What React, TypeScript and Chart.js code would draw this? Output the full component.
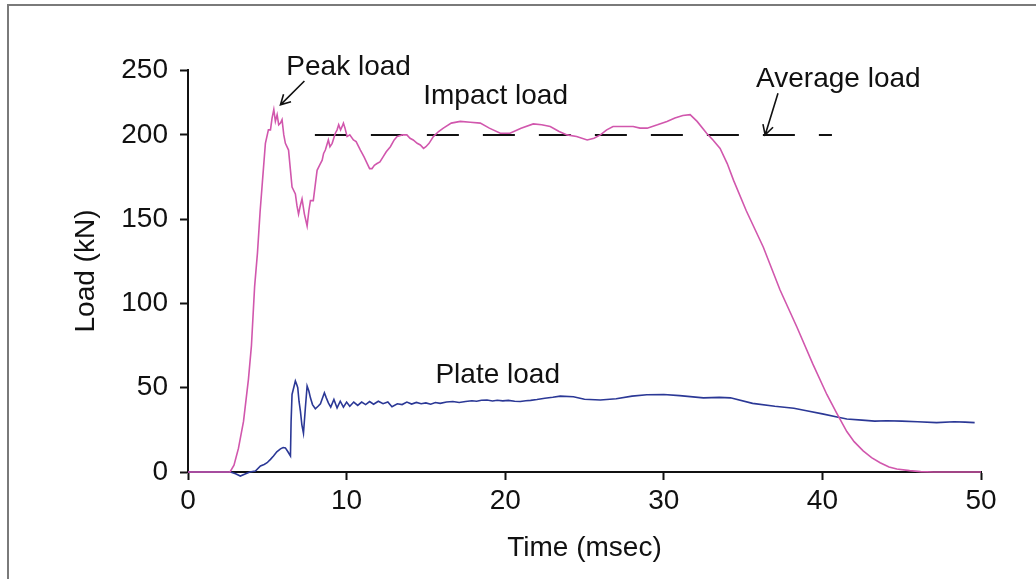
import React, { useEffect, useRef } from 'react';
import { Chart, registerables } from 'chart.js';

Chart.register(...registerables);

// ---- data ----
const impactTime = [
  0, 2.65, 2.9, 3.18, 3.5, 3.81, 4.0, 4.2, 4.38, 4.55, 4.69, 4.88, 5.07, 5.2, 5.3, 5.41, 5.51, 5.62, 5.72,
  5.83, 5.93, 6.04, 6.14, 6.34, 6.45, 6.56, 6.77, 6.87, 6.97, 7.08, 7.19, 7.34, 7.51, 7.62, 7.72, 7.9, 8.02,
  8.14, 8.3, 8.46, 8.55, 8.66, 8.85, 8.95, 9.09, 9.29, 9.4, 9.5, 9.62, 9.72, 9.8, 9.9, 10.03, 10.2, 10.43,
  10.6, 10.87, 11.1, 11.3, 11.45, 11.6, 11.75, 11.92, 12.1, 12.3, 12.5, 12.76, 13.0, 13.18, 13.5, 13.8, 14.0,
  14.2, 14.45, 14.65, 14.85, 15.0, 15.2, 15.47, 15.8, 16.1, 16.6, 17.17, 17.8, 18.43, 19.0, 19.69, 20.3, 21.0,
  21.77, 22.3, 22.84, 23.4, 23.9, 24.5, 25.17, 25.6, 26.0, 26.4, 26.8, 27.4, 28.07, 28.5, 28.95, 29.6, 30.2,
  30.7, 31.2, 31.66, 32.1, 32.7, 33.1, 33.55, 34.0, 34.4, 35.2, 36.27, 37.33, 38.39, 39.4, 40.28, 40.9, 41.54,
  42.0, 42.57, 43.1, 43.64, 44.2, 44.69, 45.5, 46.2, 47.0, 50.0,
];
const impactLoad = [
  0, 0, 4, 14, 30, 55, 75, 110, 130, 155, 172, 195, 203, 203, 210, 215, 208, 212, 206,
  207, 209, 200, 195, 191, 180, 169, 165, 158, 153, 158, 162, 153, 146, 155, 161, 161, 170,
  179, 182, 185, 189, 191, 197, 193, 195, 201, 203, 206, 203, 205, 207, 204, 199, 200, 197,
  196, 191, 187, 183, 180, 180, 182, 183, 184, 187, 190, 193, 197, 199, 200, 200, 198,
  197, 195, 194, 192, 193, 195, 199, 202, 204, 207, 208, 207.5, 207, 204, 201, 201, 204,
  206.5, 206, 205, 202, 200, 199, 197, 198, 200, 203, 205, 205, 205, 204, 204, 206, 208,
  210, 211.5, 212, 208, 201, 197, 192, 183, 173, 155, 133.5, 108, 86, 64, 46, 35, 24,
  18, 12.5, 8.5, 5.5, 3, 1.8, 0.8, 0.2, 0, 0,
];

const plateTime = [
  0, 2.68, 3.0, 3.3, 3.6, 3.9, 4.25, 4.57, 4.8, 4.99, 5.2, 5.39, 5.6, 5.83, 6.0, 6.14, 6.3, 6.46, 6.5,
  6.56, 6.77, 6.85, 6.92, 7.0, 7.09, 7.18, 7.28, 7.4, 7.51, 7.62, 7.72, 7.85, 8.03, 8.2, 8.35, 8.6, 8.72,
  8.85, 9.0, 9.2, 9.4, 9.6, 9.8, 10.0, 10.2, 10.45, 10.7, 10.95, 11.2, 11.45, 11.7, 12.0, 12.3, 12.6,
  12.86, 13.2, 13.5, 13.8, 14.1, 14.4, 14.7, 15.0, 15.3, 15.6, 15.9, 16.3, 16.7, 17.1, 17.5, 17.9, 18.2,
  18.5, 18.85, 19.2, 19.5, 19.85, 20.2, 20.6, 20.95, 21.3, 21.6, 22.0, 22.5, 23.0, 23.47, 24.3, 25.0, 26.0,
  27.0, 28.0, 28.93, 30.0, 31.0, 32.5, 33.5, 34.2, 35.6, 37.0, 38.2, 39.0, 40.0, 41.0, 41.54, 42.5, 43.3,
  44.06, 45.0, 46.0, 47.2, 48.3, 49.0, 49.6,
];
const plateLoad = [
  0, 0, -1, -2.4, -1.2, 0, 0.6, 3.6, 4.5, 5.5, 7.5, 9.5, 12, 13.7, 14.5, 14.3, 12, 9.5, 30,
  46, 54, 52, 50, 42, 36, 28, 23, 38, 51, 48, 44, 40, 37.5, 39, 40.5, 47, 44,
  41, 38.5, 43, 38, 42, 38.5, 41.5, 39, 41.5, 39.5, 41.5, 40, 41.8, 40.2, 42, 40.5, 41.5,
  38.7, 40.5, 40, 41.5, 40.3, 41.3, 40.5, 41, 40.2, 41.2, 40.7, 41.5, 41.8, 41.2, 41.8, 42.3, 42,
  42.6, 42.7, 42.1, 42.6, 42.2, 42.5, 42, 41.8, 42.3, 42.5, 43, 43.8, 44.3, 45, 44.6, 43.2, 42.7,
  43.5, 45, 45.8, 46, 45.3, 44, 44.3, 44, 40.7, 39, 37.8, 36.3, 34.5, 32.5, 31.4, 30.8, 30.2,
  30.4, 30.2, 29.8, 29.3, 29.8, 29.6, 29.3,
];

const averageTime = [8.0, 40.6];
const averageLoad = [200, 200];

const xTickValues = [0, 10, 20, 30, 40, 50];
const yTickValues = [0, 50, 100, 150, 200, 238.5];
const yTickLabels = ['0', '50', '100', '150', '200', '250'];

const xTitle = 'Time (msec)';
const yTitle = 'Load (kN)';

const labelTexts = ['Peak load', 'Impact load', 'Average load', 'Plate load'];
const labelTimes = [6.2, 14.83, 35.82, 15.6];
const labelLoads = [235.5, 218.3, 228.4, 52.7];

const arrowFromTime = [7.34, 37.2];
const arrowFromLoad = [232, 224.7];
const arrowToTime = [5.83, 36.39];
const arrowToLoad = [217.8, 200];

const FONT = '"Liberation Sans", Arial, sans-serif';

const annotationPlugin = {
  id: 'annotations',
  beforeDraw(chart: any) {
    const ctx = chart.ctx;
    ctx.save();
    ctx.strokeStyle = '#7a7a7a';
    ctx.lineWidth = 2;
    ctx.beginPath();
    ctx.moveTo(8, chart.height);
    ctx.lineTo(8, 5);
    ctx.lineTo(chart.width, 5);
    ctx.stroke();
    ctx.restore();
  },
  afterDatasetsDraw(chart: any) {
    const ctx = chart.ctx;
    const xs = chart.scales.x;
    const ys = chart.scales.y;
    ctx.save();
    ctx.fillStyle = '#111';
    ctx.font = `28px ${FONT}`;
    ctx.textAlign = 'left';
    ctx.textBaseline = 'alphabetic';
    labelTexts.forEach((t, i) => {
      ctx.fillText(t, xs.getPixelForValue(labelTimes[i]), ys.getPixelForValue(labelLoads[i]));
    });
    ctx.strokeStyle = '#111';
    ctx.lineWidth = 1.6;
    arrowFromTime.forEach((_, i) => {
      const x1 = xs.getPixelForValue(arrowFromTime[i]);
      const y1 = ys.getPixelForValue(arrowFromLoad[i]);
      const x2 = xs.getPixelForValue(arrowToTime[i]);
      const y2 = ys.getPixelForValue(arrowToLoad[i]);
      const a = Math.atan2(y2 - y1, x2 - x1);
      const h = 11;
      ctx.beginPath();
      ctx.moveTo(x1, y1);
      ctx.lineTo(x2, y2);
      ctx.moveTo(x2 - h * Math.cos(a - 0.5), y2 - h * Math.sin(a - 0.5));
      ctx.lineTo(x2, y2);
      ctx.lineTo(x2 - h * Math.cos(a + 0.5), y2 - h * Math.sin(a + 0.5));
      ctx.stroke();
    });
    ctx.restore();
  },
};

export default function App() {
  const ref = useRef<HTMLCanvasElement>(null);
  useEffect(() => {
    if (!ref.current) return;
    const toPts = (xs: number[], ys: number[]) => xs.map((x, i) => ({ x, y: ys[i] }));
    const chart = new Chart(ref.current, {
      type: 'line',
      data: {
        datasets: [
          {
            label: 'Impact load',
            data: toPts(impactTime, impactLoad),
            borderColor: '#d157ad',
            borderWidth: 1.6,
            pointRadius: 0,
            tension: 0,
            clip: false as any,
          },
          {
            label: 'Plate load',
            data: toPts(plateTime, plateLoad),
            borderColor: '#2b3896',
            borderWidth: 1.6,
            pointRadius: 0,
            tension: 0,
            clip: false as any,
          },
          {
            label: 'Average load',
            data: toPts(averageTime, averageLoad),
            borderColor: '#111',
            borderWidth: 2,
            borderDash: [32, 24],
            pointRadius: 0,
            tension: 0,
          },
        ],
      },
      options: {
        responsive: false,
        animation: false,
        events: [],
        layout: { padding: { top: 70, right: 55, bottom: 0, left: 0 } },
        plugins: { legend: { display: false }, tooltip: { enabled: false } },
        scales: {
          x: {
            type: 'linear',
            min: 0,
            max: 50,
            afterBuildTicks: (s: any) => {
              s.ticks = xTickValues.map((v) => ({ value: v }));
            },
            afterFit: (s: any) => {
              s.height = 107;
            },
            grid: {
              drawOnChartArea: false,
              drawTicks: true,
              tickLength: 8,
              tickColor: '#111',
              tickWidth: 2,
            },
            border: { color: '#111', width: 2 },
            ticks: {
              color: '#111',
              font: { family: FONT, size: 28 },
              padding: 4,
              maxRotation: 0,
              autoSkip: false,
            },
            title: {
              display: true,
              text: xTitle,
              color: '#111',
              font: { family: FONT, size: 28 },
              padding: { top: 0, bottom: 14 },
            },
          },
          y: {
            type: 'linear',
            min: 0,
            max: 238.5,
            afterBuildTicks: (s: any) => {
              s.ticks = yTickValues.map((v) => ({ value: v }));
            },
            afterFit: (s: any) => {
              s.width = 188;
            },
            grid: {
              drawOnChartArea: false,
              drawTicks: true,
              tickLength: 8,
              tickColor: '#111',
              tickWidth: 2,
            },
            border: { color: '#111', width: 2 },
            ticks: {
              color: '#111',
              font: { family: FONT, size: 28 },
              padding: 12,
              autoSkip: false,
              callback: (_v: any, i: number) => yTickLabels[i],
            },
            title: {
              display: true,
              text: yTitle,
              color: '#111',
              font: { family: FONT, size: 28 },
              padding: { top: 69, bottom: 0 },
            },
          },
        },
      },
      plugins: [annotationPlugin],
    } as any);
    return () => chart.destroy();
  }, []);
  return (
    <canvas
      ref={ref}
      width={1036}
      height={579}
      style={{ position: 'fixed', left: 0, top: 0, display: 'block', background: '#fff' }}
    />
  );
}
